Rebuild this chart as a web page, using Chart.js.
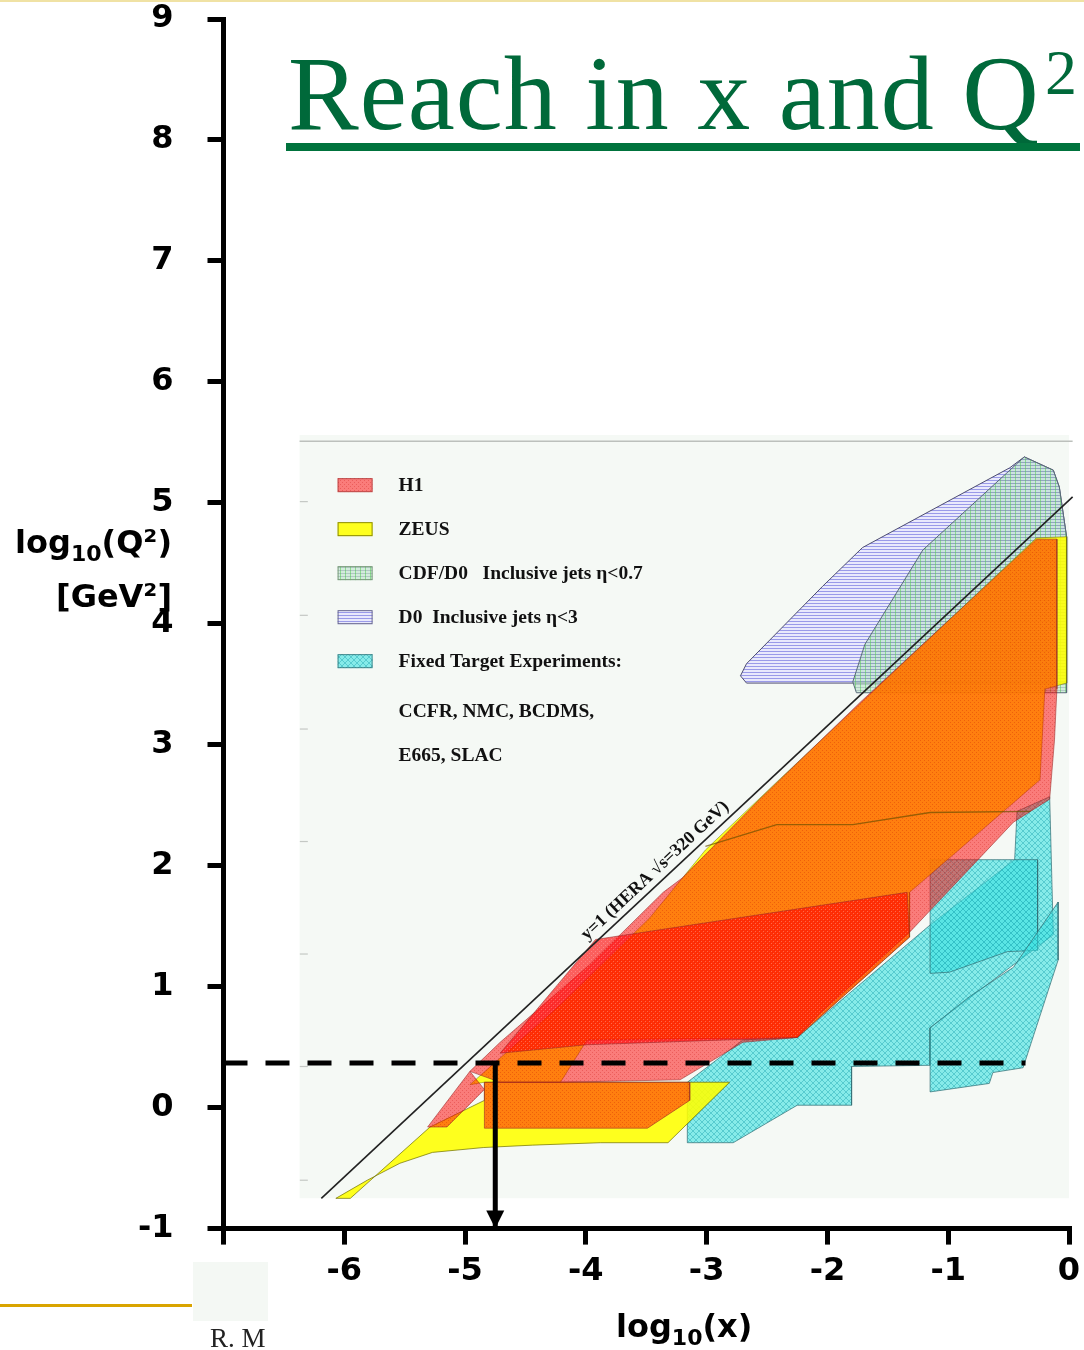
<!DOCTYPE html>
<html>
<head>
<meta charset="utf-8">
<script src="https://cdn.jsdelivr.net/npm/chart.js@4.4.0/dist/chart.umd.min.js"></script>
<style>
  body { margin: 0; background: #fff; }
  #wrap { position: relative; width: 1084px; height: 1350px; overflow: hidden; }
  #wrap canvas { position: absolute; left: 0; top: 0; }
  .txt { position: absolute; white-space: nowrap; }
  .title { left: 288px; top: 41px; font: 106px/1 'Liberation Serif', serif; color: #00693a; letter-spacing: 1px; }
  .title2 { left: 1045px; top: 41px; font: 64px/1 'Liberation Serif', serif; color: #00693a; }
  .uline { position: absolute; left: 286px; top: 143px; width: 794px; height: 8px; background: #00733d; }
  .axt { font: bold 32px/1 'DejaVu Sans', sans-serif; color: #000; }
  .ytitle { left: 0; width: 172px; text-align: right; }
  .sub { font-size: 22px; position: relative; top: 8px; }
  .goldtop { position: absolute; left: 0; top: 0; width: 1084px; height: 2px; background: #f0e2a4; }
  .goldbot { position: absolute; left: 0; top: 1304px; width: 192px; height: 3px; background: #d9a400; }
  .box { position: absolute; left: 193px; top: 1262px; width: 75px; height: 59px; background: #f4f8f4; }
  .author { left: 210px; top: 1325px; font: 27px/1 'Liberation Serif', serif; color: #222; }
</style>
</head>
<body>
<div id="wrap">
  <canvas id="reachChart" width="1084" height="1350"></canvas>
  <div class="goldtop"></div>
  <div class="txt title">Reach in x and Q</div>
  <div class="txt title2">2</div>
  <div class="uline"></div>
  <div class="txt axt ytitle" style="top:526px">log<span class="sub">10</span>(Q²)</div>
  <div class="txt axt ytitle" style="top:580px">[GeV²]</div>
  <div class="txt axt" style="left:616px; top:1310px">log<span class="sub">10</span>(x)</div>
  <div class="goldbot"></div>
  <div class="box"></div>
  <div class="txt author">R. M</div>
</div>
<script>
// values, everything in log10 units
const xTickValues = [-7, -6, -5, -4, -3, -2, -1, 0];
const yTickValues = [-1, 0, 1, 2, 3, 4, 5, 6, 7, 8, 9];

// pasted-in plot: background, frame and the tick marks left on its edge
const insetBox = [[-6.37, -0.75], [0.07, -0.75], [0.07, 5.56], [-6.37, 5.56]];
const insetFrame = [[-6.37, 5.51], [0.03, 5.51], [0.03, -0.75]];
const insetTickX = -6.335;
const insetYTicks = [5.01, 4.07, 3.13, 2.20, 1.27, 0.34, -0.60];

// y=1 kinematic limit at HERA
const heraY1Line = [[-6.19, -0.75], [0.03, 5.05]];

// Tevatron jets
const d0Jets = [[-2.72, 3.57], [-2.67, 3.67], [-2.04, 4.31], [-1.71, 4.63], [-0.49, 5.29], [-0.37, 5.38],
  [-0.13, 5.27], [-0.08, 5.13], [-0.02, 4.72], [-0.02, 3.51], [-2.67, 3.51]];
const cdfJets = [[-1.79, 3.52], [-1.69, 3.83], [-1.21, 4.61], [-0.37, 5.38], [-0.13, 5.27], [-0.08, 5.13],
  [-0.02, 4.72], [-0.02, 3.43], [-1.76, 3.43]];

// fixed target
const fixedTargetA = [[-3.16, 0.21], [-2.70, 0.56], [-2.25, 0.58], [-1.15, 1.51], [-0.45, 2.05], [-0.43, 2.45],
  [-0.16, 2.57], [-0.13, 1.43], [-1.15, 0.66], [-1.15, 0.35], [-1.80, 0.34], [-1.80, 0.02], [-2.25, 0.02],
  [-2.78, -0.29], [-3.16, -0.29]];
const fixedTargetB = [[-1.15, 2.05], [-0.26, 2.05], [-0.26, 1.30], [-0.51, 1.29], [-0.99, 1.12], [-1.15, 1.11]];
const fixedTargetC = [[-1.15, 0.66], [-0.82, 0.92], [-0.46, 1.16], [-0.09, 1.70], [-0.09, 1.22], [-0.38, 0.33],
  [-0.63, 0.29], [-0.66, 0.20], [-1.15, 0.13]];

// ZEUS
const zeusLowQ2 = [[-6.07, -0.75], [-5.95, -0.75], [-5.29, -0.16], [-4.84, 0.06], [-4.84, 0.21], [-2.81, 0.21],
  [-3.32, -0.29], [-3.88, -0.29], [-4.44, -0.31], [-4.85, -0.33], [-5.27, -0.37], [-5.54, -0.46], [-5.81, -0.60]];
const zeusNominal = [[-4.96, 0.19], [-4.21, 0.85], [-3.47, 1.57], [-3.01, 2.13], [-2.39, 2.72], [-1.40, 3.65],
  [-0.27, 4.71], [-0.02, 4.72], [-0.02, 3.51], [-0.20, 3.46], [-0.24, 2.71], [-1.32, 1.78], [-1.32, 1.41],
  [-2.25, 0.58], [-3.99, 0.56], [-4.21, 0.21], [-4.84, 0.21]];

// H1
const h1Nominal = [[-4.96, 0.30], [-4.71, 0.54], [-3.97, 1.18], [-3.36, 1.78], [-3.20, 1.90], [-2.56, 2.55],
  [-1.73, 3.35], [-0.27, 4.70], [-0.10, 4.70], [-0.10, 3.46], [-0.12, 3.04], [-0.16, 2.55], [-0.46, 2.36],
  [-1.32, 1.45], [-2.06, 0.78], [-2.25, 0.58], [-2.70, 0.54], [-3.22, 0.23], [-4.21, 0.21], [-4.71, 0.21]];
const h1LowQ2 = [[-4.84, 0.21], [-3.14, 0.21], [-3.14, 0.06], [-3.49, -0.17], [-4.84, -0.17]];
const h1ShiftedVertex = [[-5.31, -0.16], [-5.15, -0.16], [-4.84, 0.15], [-4.96, 0.30]];
const h1HighY = [[-4.71, 0.45], [-3.92, 1.39], [-1.34, 1.78], [-1.32, 1.41], [-2.25, 0.58], [-3.99, 0.52]];
const h1BinEdge = [[-3.01, 2.16], [-2.42, 2.34], [-1.79, 2.34], [-1.15, 2.44], [-0.32, 2.45]];

// marker for Q^2 and x
const dashedQ2 = [[-7, 0.37], [-0.36, 0.37]];
const arrowX = [[-4.75, 0.37], [-4.75, -1]];

const legendLabels = ['H1', 'ZEUS', 'CDF/D0   Inclusive jets \u03b7<0.7', 'D0  Inclusive jets \u03b7<3', 'Fixed Target Experiments:'];
const legendExtra = ['CCFR, NMC, BCDMS,', 'E665, SLAC'];
const heraLabel = 'y=1 (HERA \u221as=320 GeV)';

// ---- hatch fills ----
const ctx = document.getElementById('reachChart').getContext('2d');
function pattern(w, h, draw) {
  const c = document.createElement('canvas');
  c.width = w; c.height = h;
  draw(c.getContext('2d'));
  return ctx.createPattern(c, 'repeat');
}
const h1Fill = pattern(4, 4, g => {
  g.fillStyle = 'rgba(255,0,0,0.5)'; g.fillRect(0, 0, 4, 4);
  g.fillStyle = 'rgba(190,0,0,0.25)'; g.fillRect(0, 0, 1, 1); g.fillRect(2, 2, 1, 1);
});
const h1Dense = pattern(4, 4, g => {
  g.fillStyle = 'rgba(255,0,0,0.62)'; g.fillRect(0, 0, 4, 4);
  g.fillStyle = 'rgba(255,200,200,0.35)'; g.fillRect(1, 1, 1, 1); g.fillRect(3, 3, 1, 1);
});
const zeusFill = 'rgba(255,255,0,0.88)';
const cyanFill = pattern(6, 6, g => {
  g.fillStyle = 'rgba(60,225,225,0.6)'; g.fillRect(0, 0, 6, 6);
  g.strokeStyle = 'rgba(30,165,175,0.45)'; g.lineWidth = 1;
  g.beginPath(); g.moveTo(0, 0); g.lineTo(6, 6); g.moveTo(6, 0); g.lineTo(0, 6); g.stroke();
});
const d0Fill = pattern(4, 3, g => {
  g.fillStyle = 'rgba(232,232,252,0.95)'; g.fillRect(0, 0, 4, 3);
  g.fillStyle = 'rgba(150,150,232,0.95)'; g.fillRect(0, 0, 4, 1);
});
const cdfFill = pattern(5, 3, g => {
  g.fillStyle = 'rgba(175,222,195,0.5)'; g.fillRect(0, 0, 5, 3);
  g.fillStyle = 'rgba(110,215,110,0.7)'; g.fillRect(0, 0, 1, 3);
  g.fillStyle = 'rgba(100,120,140,0.3)'; g.fillRect(0, 0, 5, 1);
});

const pts = a => a.map(p => ({ x: p[0], y: p[1] }));
let layer = 0;
function area(label, a, fill, stroke) {
  const d = pts(a); d.push({ ...d[0] });
  return { label, data: d, showLine: true, fill: 'shape', backgroundColor: fill, borderColor: stroke,
    borderWidth: 1, pointRadius: 0, tension: 0, clip: false, order: 100 - (layer++) };
}
function line(label, a, color, width, dash) {
  return { label, data: pts(a), showLine: true, fill: false, borderColor: color, borderWidth: width,
    borderDash: dash || [], borderCapStyle: 'butt', pointRadius: 0, tension: 0, clip: false, order: 100 - (layer++) };
}

const datasets = [
  area('inset', insetBox, '#f5f9f5', 'rgba(0,0,0,0)'),
  line('inset frame', insetFrame, '#bcc0bc', 1.5),
  { label: 'inset ticks', data: insetYTicks.map(v => ({ x: insetTickX, y: v })), showLine: false,
    pointStyle: 'line', pointRadius: 4, borderColor: '#c4c8c4', borderWidth: 1.2, clip: false, order: 100 - (layer++) },
  area('D0 Inclusive jets', d0Jets, d0Fill, '#4e4e72'),
  area('CDF/D0 Inclusive jets', cdfJets, cdfFill, '#5a6a7a'),
  area('Fixed Target A', fixedTargetA, cyanFill, 'rgba(50,110,115,0.7)'),
  area('Fixed Target B', fixedTargetB, cyanFill, 'rgba(50,110,115,0.7)'),
  area('Fixed Target C', fixedTargetC, cyanFill, 'rgba(50,110,115,0.7)'),
  area('ZEUS low Q2', zeusLowQ2, zeusFill, 'rgba(110,110,0,0.7)'),
  area('ZEUS', zeusNominal, zeusFill, 'rgba(110,110,0,0.5)'),
  area('H1', h1Nominal, h1Fill, 'rgba(150,40,40,0.55)'),
  area('H1 low Q2', h1LowQ2, h1Fill, 'rgba(150,40,40,0.55)'),
  area('H1 shifted vertex', h1ShiftedVertex, h1Fill, 'rgba(150,40,40,0.55)'),
  area('H1 high y', h1HighY, h1Dense, 'rgba(150,40,40,0.55)'),
  line('H1 bin edge', h1BinEdge, 'rgba(110,80,0,0.7)', 1.3),
  line('y=1', heraY1Line, '#222', 1.6),
  line('Q2 marker', dashedQ2, '#000', 5, [24, 18]),
  line('x marker', arrowX, '#000', 5)
];
const byLabel = l => datasets.findIndex(d => d.label === l);

const overlayPlugin = {
  id: 'overlay',
  afterDatasetsDraw(chart) {
    const c = chart.ctx, xs = chart.scales.x, ys = chart.scales.y;
    c.save();
    // arrow head at the end of the x marker
    const am = chart.getDatasetMeta(byLabel('x marker')).data;
    const tip = am[am.length - 1];
    c.fillStyle = '#000';
    c.beginPath(); c.moveTo(tip.x, tip.y); c.lineTo(tip.x - 9, tip.y - 18); c.lineTo(tip.x + 9, tip.y - 18); c.closePath(); c.fill();

    // label along the y=1 line
    const lm = chart.getDatasetMeta(byLabel('y=1')).data;
    const ang = Math.atan2(lm[1].y - lm[0].y, lm[1].x - lm[0].x);
    const fx = -3.95, fy = heraY1Line[0][1] + (fx - heraY1Line[0][0]) * (heraY1Line[1][1] - heraY1Line[0][1]) / (heraY1Line[1][0] - heraY1Line[0][0]);
    c.translate(xs.getPixelForValue(fx), ys.getPixelForValue(fy));
    c.rotate(ang);
    c.font = 'bold 18px "Liberation Serif", serif';
    c.fillStyle = '#111';
    c.textBaseline = 'alphabetic';
    c.fillText(heraLabel, 0, -7);
    c.setTransform(1, 0, 0, 1, 0, 0);

    // legend of the pasted plot
    const ox = xs.getPixelForValue(insetBox[0][0]), oy = ys.getPixelForValue(insetFrame[0][1]);
    const fills = [
      [h1Fill, 'rgba(150,40,40,0.6)'], [zeusFill, 'rgba(110,110,0,0.8)'], [cdfFill, '#7a9a7a'],
      [d0Fill, '#6a6a90'], [cyanFill, 'rgba(50,110,115,0.8)']
    ];
    c.font = 'bold 19.5px "Liberation Serif", serif';
    legendLabels.forEach((t, i) => {
      const cy = oy + 44 + i * 44;
      c.fillStyle = fills[i][0]; c.fillRect(ox + 38, cy - 7, 35, 14);
      c.strokeStyle = fills[i][1]; c.lineWidth = 1; c.strokeRect(ox + 38.5, cy - 6.5, 34, 13);
      c.fillStyle = '#111';
      c.fillText(t, ox + 99, cy + 6);
    });
    legendExtra.forEach((t, i) => {
      c.fillText(t, ox + 99, oy + 44 + 5 * 44 + 12 + i * 44);
    });
    c.restore();
  }
};

const axisFont = { family: 'DejaVu Sans', size: 32, weight: 'bold' };
new Chart(ctx, {
  type: 'scatter',
  data: { datasets },
  options: {
    responsive: false,
    animation: false,
    events: [],
    devicePixelRatio: 1,
    layout: { padding: { top: 19, right: 15, left: 0, bottom: 0 } },
    plugins: { legend: { display: false }, tooltip: { enabled: false } },
    scales: {
      x: {
        type: 'linear', min: -7, max: 0,
        afterFit(s) { s.height = 121.4; s.paddingLeft = 0; s.paddingRight = 0; },
        afterBuildTicks(s) { s.ticks = xTickValues.map(v => ({ value: v })); },
        ticks: { font: axisFont, color: '#000', padding: 8, maxRotation: 0, autoSkip: false,
          callback: v => (v === -7 ? '' : String(v)) },
        grid: { drawOnChartArea: false, drawTicks: true, tickLength: 16, color: '#000', lineWidth: 5 },
        border: { color: '#000', width: 5 }
      },
      y: {
        type: 'linear', min: -1, max: 9,
        afterFit(s) { s.width = 223.5; s.paddingTop = 0; s.paddingBottom = 0; },
        afterBuildTicks(s) { s.ticks = yTickValues.map(v => ({ value: v })); },
        ticks: { font: axisFont, color: '#000', padding: 34, autoSkip: false, callback: v => String(v) },
        grid: { drawOnChartArea: false, drawTicks: true, tickLength: 16, color: '#000', lineWidth: 5 },
        border: { color: '#000', width: 5 }
      }
    }
  },
  plugins: [overlayPlugin]
});
</script>
</body>
</html>
